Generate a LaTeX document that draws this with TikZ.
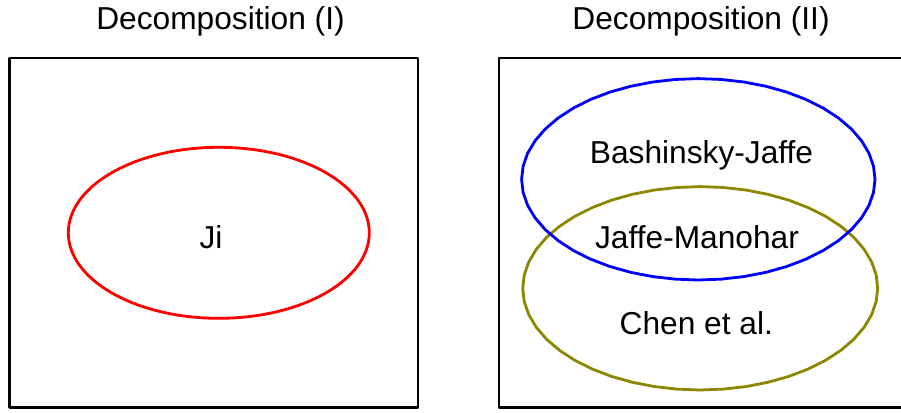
\documentclass[tikz,border=0pt]{standalone}
\usepackage{fontspec}
\setmainfont{Liberation Sans}
\begin{document}
\begin{tikzpicture}[x=1pt,y=-1pt,line width=2.8pt,line join=round,
        font=\fontsize{31.7}{38}\selectfont]
        \useasboundingbox (0,0) rectangle (901,412);
        \clip (0,0) rectangle (901,412);
        % the two boxes
        \draw (9.7,58) rectangle (418,407.7);
        \draw (499,58) rectangle (907,407.7);
        \node[anchor=base] (titleI) at (220.5,29.5) {Decomposition (I)};
        \node[anchor=base] (titleII) at (701,29.5) {Decomposition (II)};
        % left: one decomposition
        \draw[red] (218.8,232.8) ellipse [x radius=150.5pt, y radius=85.5pt];
        \node[anchor=base] (ji) at (211,248.3) {Ji};
        % right: overlapping ones
        \draw[olive] plot[samples=49, domain=0:360] ({700.2+177.5*cos(\x)},{288.3+101.7*sin(\x)});
        \draw[blue] plot[samples=49, domain=0:360] ({698.3+176.7*cos(\x)},{179.3+100.7*sin(\x)});
        \node[anchor=base] (bj) at (701.5,163.3) {Bashinsky-Jaffe};
        \node[anchor=base] (jm) at (697,248.3) {Jaffe-Manohar};
        \node[anchor=base] (chen) at (696.3,334) {Chen et al.};
\end{tikzpicture}
\end{document}
